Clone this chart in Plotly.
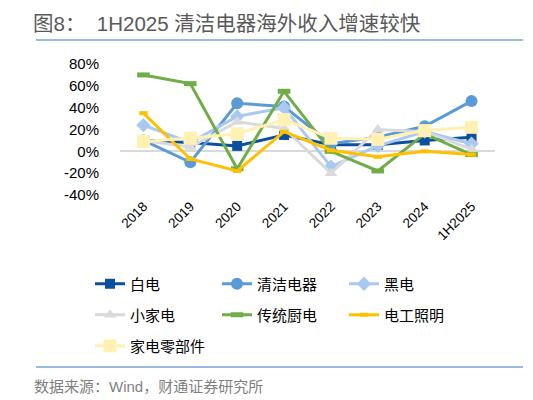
import plotly.graph_objects as go

# 数据
years = ["2018", "2019", "2020", "2021", "2022", "2023", "2024", "1H2025"]
yticks = [-40, -20, 0, 20, 40, 60, 80]
ytick_text = ["-40%", "-20%", "0%", "20%", "40%", "60%", "80%"]

baidian = [10, 8, 5, 15, 6, 6, 10, 13]          # 白电
qingjie = [10, -10, 44, 41, 7, 13, 23, 46]      # 清洁电器
heidian = [24, 8, 32, 40, -14, 5, 18, 7]        # 黑电
xiaojiadian = [10, 4, 27, 21, -20, 20, 18, 2]   # 小家电
chuantong = [70, 62, -16, 55, 0, -18, 16, -3]   # 传统厨电
diangong = [35, -7, -18, 18, 1, -5, 0, -3]      # 电工照明
lingbujian = [9, 12, 16, 29, 12, 11, 19, 22]    # 家电零部件

W, H = 533, 400
L, R, T, B = 112, 46, 56, 213


def px(x):
    return (x - L) / (W - L - R)


def py(y):
    return (H - B - y) / (H - T - B)


font_cn = "Liberation Sans, Arial, Noto Sans CJK SC, sans-serif"

series = [
    ("白电", baidian, "#0b4f9e", dict(symbol="square", size=10), "legend"),
    ("清洁电器", qingjie, "#5b9bd5", dict(symbol="circle", size=12), "legend"),
    ("黑电", heidian, "#a9c9f0", dict(symbol="diamond", size=11), "legend"),
    ("小家电", xiaojiadian, "#d9dadc", dict(symbol="triangle-up", size=11), "legend2"),
    ("传统厨电", chuantong, "#70ad47",
     dict(symbol="line-ew", size=9, line=dict(width=5, color="#70ad47")), "legend2"),
    ("电工照明", diangong, "#ffc000",
     dict(symbol="line-ew", size=6, line=dict(width=4, color="#ffc000")), "legend2"),
    ("家电零部件", lingbujian, "#fff0b3", dict(symbol="square", size=13), "legend3"),
]

fig = go.Figure()
for name, vals, color, mk, lg in series:
    fig.add_trace(go.Scatter(
        x=years, y=vals, name=name, mode="lines+markers",
        line=dict(color=color, width=3),
        marker=dict(color=color, **mk),
        legend=lg,
    ))

leg_common = dict(
    orientation="h", xref="paper", yref="paper",
    x=px(82), xanchor="left", yanchor="middle",
    entrywidth=82, entrywidthmode="pixels",
    font=dict(size=15, color="#000000", family=font_cn),
    bgcolor="rgba(0,0,0,0)",
    itemsizing="trace",
)

fig.update_layout(
    width=W, height=H,
    margin=dict(l=L, r=R, t=T, b=B),
    paper_bgcolor="white", plot_bgcolor="white",
    font=dict(family=font_cn, color="#000000"),
    showlegend=True,
    legend=dict(leg_common, y=py(276)),
    legend2=dict(leg_common, y=py(307)),
    legend3=dict(leg_common, y=py(338)),
    xaxis=dict(
        showgrid=False, zeroline=False, showline=False, ticks="",
        tickangle=-45, tickfont=dict(size=13.5, color="#000000"),
        range=[-0.5, 7.5],
    ),
    yaxis=dict(
        range=[-40, 80], tickvals=yticks, ticktext=ytick_text,
        showgrid=False, showline=False, ticks="",
        zeroline=True, zerolinecolor="#d9d9d9", zerolinewidth=2,
        tickfont=dict(size=15, color="#000000"),
        ticklabelstandoff=20,
    ),
    shapes=[
        dict(type="line", xref="paper", yref="paper",
             x0=px(28), x1=px(515), y0=py(32), y1=py(32),
             line=dict(color="#7aa3d6", width=1.5)),
        dict(type="line", xref="paper", yref="paper",
             x0=px(28), x1=px(515), y0=py(359), y1=py(359),
             line=dict(color="#7aa3d6", width=1.5)),
    ],
    annotations=[
        dict(text="图8：  1H2025 清洁电器海外收入增速较快",
             xref="paper", yref="paper", x=px(23), y=py(16),
             xanchor="left", yanchor="middle", showarrow=False,
             font=dict(size=20.5, color="#595959", family=font_cn)),
        dict(text="数据来源：Wind，财通证券研究所",
             xref="paper", yref="paper", x=px(24), y=py(378),
             xanchor="left", yanchor="middle", showarrow=False,
             font=dict(size=15, color="#7f7f7f", family=font_cn)),
    ],
)

fig.write_html("out.html")
